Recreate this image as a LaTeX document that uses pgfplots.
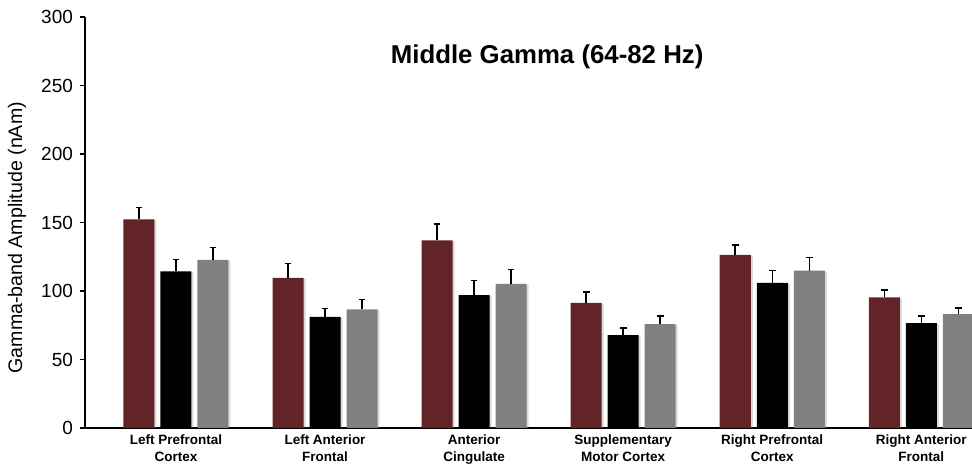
\documentclass[border=0pt]{standalone}
\usepackage{fontspec}
\setmainfont{Liberation Sans}
\usepackage{pgfplots}
\pgfplotsset{compat=1.18}
\usepackage{pgfplotstable}
\usetikzlibrary{shadows}
\definecolor{barred}{HTML}{622426}
\definecolor{bargray}{HTML}{808080}

\pgfplotstableread{
x y e
0 152.3 8.7
1 109.6 10.4
2 137.0 11.9
3 91.3 7.8
4 126.3 7.3
5 95.3 5.6
}\redtab
\pgfplotstableread{
x y e
0 114.4 8.6
1 81.1 6.1
2 96.9 10.7
3 67.8 5.3
4 105.9 9.0
5 76.5 5.1
}\blacktab
\pgfplotstableread{
x y e
0 122.7 9.0
1 86.5 7.3
2 105.2 10.4
3 75.8 5.8
4 114.9 9.5
5 83.1 4.6
}\graytab

\begin{document}
\begin{tikzpicture}
\begin{axis}[
  name=ax,
  scale only axis,
  width=443.5pt, height=205.5pt,
  ybar=3pt, bar width=15.5pt,
  xmin=-0.61, xmax=5.34,
  ymin=0, ymax=300,
  ytick={0,50,...,300},
  xtick={0,...,5},
  xticklabels={{Left Prefrontal\\Cortex},{Left Anterior\\Frontal},{Anterior\\Cingulate},{Supplementary\\Motor Cortex},{Right Prefrontal\\Cortex},{Right Anterior\\Frontal}},
  axis lines*=left,
  axis line style={line width=1pt, black},
  xtick style={draw=none},
  ytick style={line width=0.8pt, black},
  tick align=outside,
  major tick length=2.5pt,
  xticklabel style={align=center, font=\bfseries\fontsize{6.75}{8.5}\selectfont, yshift=2.5pt},
  yticklabel style={font=\fontsize{9.5}{11}\selectfont},
  /pgf/number format/assume math mode=true,
  ylabel={Gamma-band Amplitude (nAm)},
  ylabel style={font=\fontsize{9.8}{11}\selectfont, at={(axis description cs:-0.0765,0.463)}, anchor=center},
  enlargelimits=false,
  error bars/y dir=plus,
  error bars/y explicit,
  error bars/error bar style={line width=0.75pt, black},
  error bars/error mark options={rotate=90, mark size=1.7pt, line width=0.75pt, black},
]
\addplot[fill=barred, draw=none, drop shadow={shadow xshift=1pt, shadow yshift=-0.5pt, opacity=0.3}] table[x=x, y=y, y error=e] {\redtab};
\addplot[fill=black, draw=none, drop shadow={shadow xshift=1pt, shadow yshift=-0.5pt, opacity=0.3}] table[x=x, y=y, y error=e] {\blacktab};
\addplot[fill=bargray, draw=none, drop shadow={shadow xshift=1pt, shadow yshift=-0.5pt, opacity=0.3}] table[x=x, y=y, y error=e] {\graytab};
\node[font=\bfseries\fontsize{12.9}{14}\selectfont] at (rel axis cs:0.521,0.903) {Middle Gamma (64-82 Hz)};
\end{axis}
\pgfresetboundingbox
\path[use as bounding box] ([shift={(-42.5pt,-20.5pt)}]ax.south west) rectangle ([shift={(443.5pt,214pt)}]ax.south west);
\end{tikzpicture}
\end{document}
